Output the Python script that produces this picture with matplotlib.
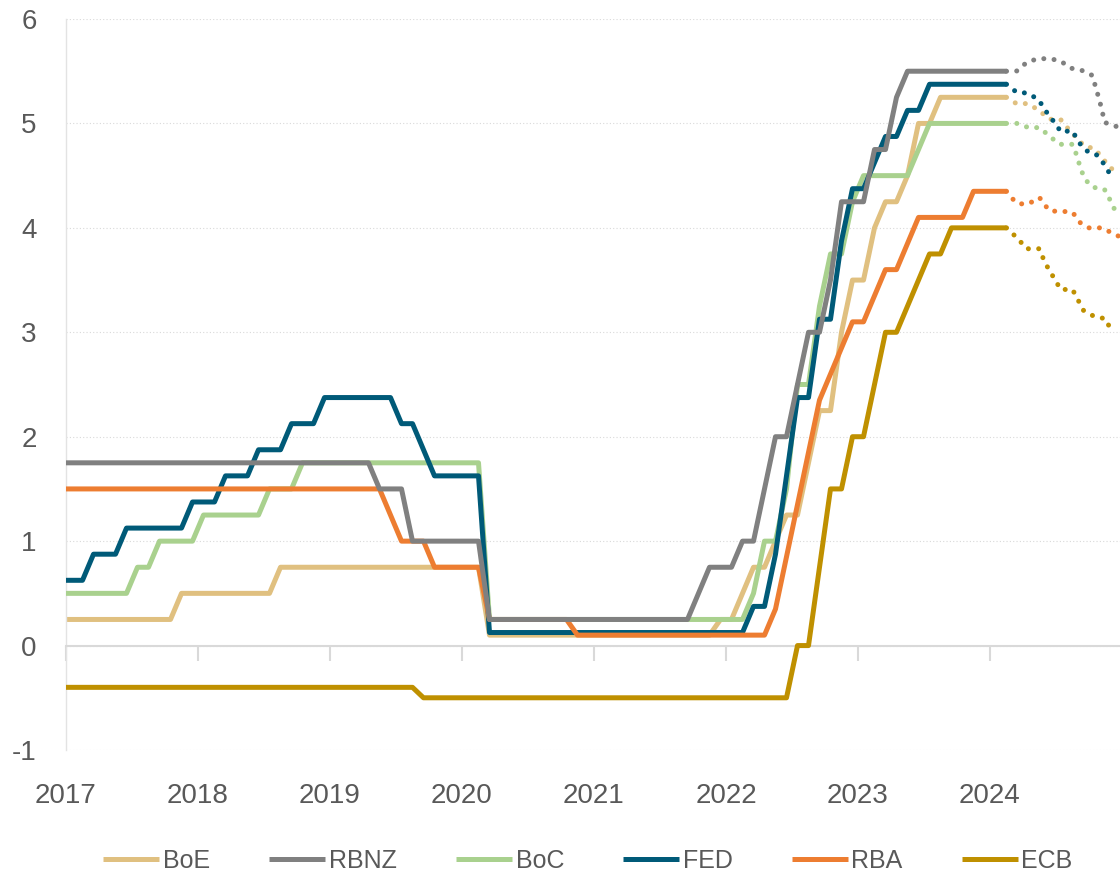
import numpy as np
import matplotlib
matplotlib.use("Agg")
import matplotlib.pyplot as plt

plt.rcParams['font.family'] = ['Liberation Sans', 'DejaVu Sans']
plt.rcParams['axes.unicode_minus'] = False

# positions are months since Jan 2017 (month k plotted at k + 0.5)
BOE = [(0, 0.25), (9.5, 0.25), (10.5, 0.5), (18.5, 0.5), (19.5, 0.75), (37.5, 0.75),
       (38.5, 0.1), (58.5, 0.1), (59.5, 0.25), (60.5, 0.25), (61.5, 0.5), (62.5, 0.75),
       (63.5, 0.75), (64.5, 1.0), (65.5, 1.25), (66.5, 1.25), (67.5, 1.75), (68.5, 2.25),
       (69.5, 2.25), (70.5, 3.0), (71.5, 3.5), (72.5, 3.5), (73.5, 4.0), (74.5, 4.25),
       (75.5, 4.25), (76.5, 4.5), (77.5, 5.0), (78.5, 5.0), (79.5, 5.25), (85.5, 5.25)]
RBNZ = [(0, 1.75), (27.5, 1.75), (28.5, 1.5), (30.5, 1.5), (31.5, 1.0), (37.5, 1.0),
        (38.5, 0.25), (56.5, 0.25), (57.5, 0.5), (58.5, 0.75), (60.5, 0.75), (61.5, 1.0),
        (62.5, 1.0), (63.5, 1.5), (64.5, 2.0), (65.5, 2.0), (66.5, 2.5), (67.5, 3.0),
        (68.5, 3.0), (69.5, 3.5), (70.5, 4.25), (72.5, 4.25), (73.5, 4.75), (74.5, 4.75),
        (75.5, 5.25), (76.5, 5.5), (85.5, 5.5)]
BOC = [(0, 0.5), (5.5, 0.5), (6.5, 0.75), (7.5, 0.75), (8.5, 1.0), (11.5, 1.0),
       (12.5, 1.25), (17.5, 1.25), (18.5, 1.5), (20.5, 1.5), (21.5, 1.75), (37.5, 1.75),
       (38.5, 0.25), (61.5, 0.25), (62.5, 0.5), (63.5, 1.0), (64.5, 1.0), (65.5, 1.5),
       (66.5, 2.5), (67.5, 2.5), (68.5, 3.25), (69.5, 3.75), (70.5, 3.75), (71.5, 4.25),
       (72.5, 4.5), (76.5, 4.5), (77.5, 4.75), (78.5, 5.0), (85.5, 5.0)]
FED = [(0, 0.625), (1.5, 0.625), (2.5, 0.875), (4.5, 0.875), (5.5, 1.125), (10.5, 1.125),
       (11.5, 1.375), (13.5, 1.375), (14.5, 1.625), (16.5, 1.625), (17.5, 1.875),
       (19.5, 1.875), (20.5, 2.125), (22.5, 2.125), (23.5, 2.375), (29.5, 2.375),
       (30.5, 2.125), (31.5, 2.125), (32.5, 1.875), (33.5, 1.625), (37.5, 1.625),
       (38.5, 0.125), (61.5, 0.125), (62.5, 0.375), (63.5, 0.375), (64.5, 0.875),
       (65.5, 1.625), (66.5, 2.375), (67.5, 2.375), (68.5, 3.125), (69.5, 3.125),
       (70.5, 3.875), (71.5, 4.375), (72.5, 4.375), (73.5, 4.625), (74.5, 4.875),
       (75.5, 4.875), (76.5, 5.125), (77.5, 5.125), (78.5, 5.375), (85.5, 5.375)]
RBA = [(0, 1.5), (28.5, 1.5), (29.5, 1.25), (30.5, 1.0), (32.5, 1.0), (33.5, 0.75),
       (37.5, 0.75), (38.5, 0.25), (45.5, 0.25), (46.5, 0.1), (63.5, 0.1), (64.5, 0.35),
       (65.5, 0.85), (66.5, 1.35), (67.5, 1.85), (68.5, 2.35), (69.5, 2.6), (70.5, 2.85),
       (71.5, 3.1), (72.5, 3.1), (73.5, 3.35), (74.5, 3.6), (75.5, 3.6), (76.5, 3.85),
       (77.5, 4.1), (81.5, 4.1), (82.5, 4.35), (85.5, 4.35)]
ECB = [(0, -0.4), (31.5, -0.4), (32.5, -0.5), (65.5, -0.5), (66.5, 0.0), (67.5, 0.0),
       (68.5, 0.75), (69.5, 1.5), (70.5, 1.5), (71.5, 2.0), (72.5, 2.0), (73.5, 2.5),
       (74.5, 3.0), (75.5, 3.0), (76.5, 3.25), (77.5, 3.5), (78.5, 3.75), (79.5, 3.75),
       (80.5, 4.0), (85.5, 4.0)]

# market-implied paths (dotted)
BOE_F = [(85.5, 5.25), (86.4, 5.19), (87.4, 5.19), (88.4, 5.13), (89.4, 5.04), (90.4, 5.04),
         (91.1, 4.95), (91.8, 4.87), (92.6, 4.78), (93.5, 4.76), (94.2, 4.67), (94.9, 4.58),
         (95.5, 4.53)]
RBNZ_F = [(85.5, 5.5), (86.4, 5.50), (87.4, 5.59), (88.4, 5.62), (89.4, 5.62), (90.4, 5.60),
          (91.3, 5.53), (92.3, 5.51), (93.3, 5.46), (93.6, 5.35), (93.9, 5.24), (94.2, 5.12),
          (94.4, 5.01), (95.3, 4.98), (95.7, 4.96)]
BOC_F = [(85.5, 5.0), (86.5, 5.00), (87.5, 4.96), (88.5, 4.96), (89.4, 4.88), (90.3, 4.80),
         (91.5, 4.80), (91.9, 4.69), (92.2, 4.58), (92.6, 4.47), (93.3, 4.39), (94.4, 4.37),
         (94.9, 4.27), (95.4, 4.16), (95.7, 4.12)]
FED_F = [(85.5, 5.375), (86.4, 5.30), (87.4, 5.29), (88.4, 5.23), (89.0, 5.13), (89.4, 5.07),
         (90.1, 4.98), (90.4, 4.92), (91.5, 4.93), (92.0, 4.83), (92.7, 4.74), (93.6, 4.71),
         (94.3, 4.62), (95.0, 4.50)]
RBA_F = [(85.5, 4.35), (86.2, 4.26), (86.6, 4.23), (87.5, 4.23), (88.5, 4.29), (89.2, 4.19),
         (89.5, 4.16), (90.4, 4.16), (91.5, 4.15), (92.2, 4.05), (93.0, 4.00), (94.2, 4.00),
         (95.1, 3.95), (95.7, 3.92)]
ECB_F = [(85.5, 4.0), (86.3, 3.92), (86.6, 3.89), (87.3, 3.80), (88.5, 3.80), (88.9, 3.69),
         (89.4, 3.59), (90.0, 3.49), (90.4, 3.41), (91.5, 3.41), (92.0, 3.31), (92.5, 3.21),
         (93.5, 3.15), (94.5, 3.13), (95.0, 3.02), (95.3, 2.99)]

YEARS = [2017, 2018, 2019, 2020, 2021, 2022, 2023, 2024]

# name, actual, forecast, colour, drawing order
series = [
    ('BoE', BOE, BOE_F, '#E0C080', 2),
    ('RBNZ', RBNZ, RBNZ_F, '#808080', 6),
    ('BoC', BOC, BOC_F, '#A9D18E', 3),
    ('FED', FED, FED_F, '#005A78', 4),
    ('RBA', RBA, RBA_F, '#ED7D31', 5),
    ('ECB', ECB, ECB_F, '#BF9000', 7),
]

fig = plt.figure(figsize=(11.2, 8.73), dpi=100)
ax = fig.add_axes([66 / 1120, 1 - 750 / 873, 1 - 66 / 1120, (750 - 19) / 873])

lw = 3.6
handles = []
for name, act, fc, color, z in series:
    a = np.array(act)
    f = np.array(fc)
    h, = ax.plot(2017 + a[:, 0] / 12, a[:, 1], color=color, lw=lw, zorder=z,
                 solid_joinstyle='round', solid_capstyle='butt', label=name)
    ax.plot(2017 + f[:, 0] / 12, f[:, 1], color=color, lw=lw, zorder=z,
            linestyle=(0, (0.01, 2.05)), dash_capstyle='round')
    handles.append(h)

ax.set_xlim(2017, 2017 + (1120 - 66) / 132)
ax.set_ylim(-1, 6)

# horizontal dotted gridlines
ax.set_yticks(range(-1, 7))
ax.yaxis.grid(True, linestyle=(0, (1, 2)), color='#D9D9D9', lw=0.8)
ax.set_axisbelow(True)
ax.tick_params(axis='y', length=0, pad=21, labelsize=20, labelcolor='#595959')

for s in ['top', 'right']:
    ax.spines[s].set_visible(False)
ax.spines['left'].set_color('#E3E3E3')
ax.spines['left'].set_linewidth(1.0)
ax.spines['bottom'].set_position(('data', 0))
ax.spines['bottom'].set_color('#D9D9D9')
ax.spines['bottom'].set_linewidth(1.5)
ax.set_xticks(YEARS)
ax.tick_params(axis='x', direction='out', length=11, width=1.5, color='#D9D9D9',
               labelbottom=False)

# year labels sit below the plot area
sec = ax.secondary_xaxis('bottom')
sec.set_xticks(YEARS)
sec.set_xticklabels([str(y) for y in YEARS])
sec.tick_params(length=0, pad=24, labelsize=20, labelcolor='#595959')
sec.spines['bottom'].set_visible(False)

fig.legend(handles=handles, loc='center', bbox_to_anchor=(588 / 1120, 1 - 861 / 873),
           ncol=6, frameon=False, fontsize=18, handlelength=2.24, handletextpad=0.15,
           columnspacing=2.36, labelcolor='#595959')

fig.savefig('out.png', dpi=100)
